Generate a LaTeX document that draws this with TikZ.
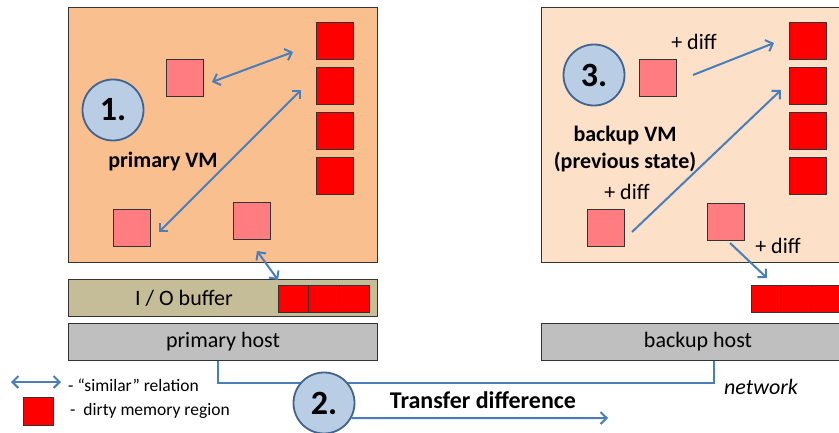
\documentclass[tikz,border=0pt]{standalone}
\usepackage{fontspec}
\setmainfont{Carlito}
\usetikzlibrary{arrows.meta}
\definecolor{vmA}{HTML}{F9BF8F}
\definecolor{vmB}{HTML}{FCE0C8}
\definecolor{pinkc}{HTML}{FF7C80}
\definecolor{bufc}{HTML}{C4BD97}
\definecolor{hostc}{HTML}{BFBFBF}
\definecolor{circf}{HTML}{B9CDE5}
\definecolor{circd}{HTML}{41648F}
\definecolor{arrc}{HTML}{4A7EBB}
\definecolor{edgec}{HTML}{333333}
\tikzset{
  box/.style={draw=edgec, line width=1pt, anchor=north west, inner sep=0pt},
  vmbox/.style={box, minimum height=255pt},
  dirty/.style={box, fill=red, minimum width=37pt, minimum height=37pt},
  simil/.style={box, fill=pinkc, minimum width=37pt, minimum height=37pt},
  cell/.style={box, fill=red, minimum width=30.3pt, minimum height=27pt},
  bar/.style={box, minimum height=37pt},
  num/.style={circle, draw=circd, line width=1.8pt, fill=circf, minimum size=61pt, inner sep=0pt, font=\fontsize{34}{36}\selectfont\bfseries},
  lbl/.style={inner sep=0pt, font=\fontsize{22}{24}\selectfont},
  blbl/.style={inner sep=0pt, font=\fontsize{22}{27}\selectfont\bfseries, align=center},
  rel/.style={draw=arrc, line width=2pt, {Straight Barb[length=6pt,width=12pt]}-{Straight Barb[length=6pt,width=12pt]}},
  dif/.style={draw=arrc, line width=2pt, -{Straight Barb[length=6pt,width=12pt]}},
  net/.style={draw=arrc, line width=2.4pt},
}
\begin{document}
\begin{tikzpicture}[x=1pt,y=-1pt]
\clip (0,0) rectangle (839,433);
\fill[white] (0,0) rectangle (839,433);
% primary VM
\node[vmbox, fill=vmA, minimum width=309pt] (pvm) at (68,7) {};
\node[dirty] (pr1) at (316,22) {};
\node[dirty] (pr2) at (316,67) {};
\node[dirty] (pr3) at (316,112) {};
\node[dirty] (pr4) at (316,157) {};
\node[simil] (pp1) at (166,59) {};
\node[simil] (pp2) at (113,209) {};
\node[simil] (pp3) at (233,202) {};
\node[num] (c1) at (113,110) {1.};
\node[blbl] (pvml) at (163,162) {primary VM};
% I/O buffer and primary host
\node[bar, fill=bufc, minimum width=309pt] (iob) at (68,279) {};
\node[lbl] (iobl) at (184,298) {I / O buffer};
\node[cell] (pc1) at (278,285) {};
\node[cell] (pc2) at (308.3,285) {};
\node[cell] (pc3) at (338.6,285) {};
\node[bar, fill=hostc, minimum width=309pt] (ph) at (68,323) {};
\node[lbl] (phl) at (223,342) {primary host};
% relations primary
\coordinate (a1s) at (212,82);  \coordinate (a1e) at (293,52);
\coordinate (a2s) at (159,232); \coordinate (a2e) at (301,90);
\coordinate (a3s) at (257,251); \coordinate (a3e) at (278,280);
\draw[rel] (a1s) -- (a1e);
\draw[rel] (a2s) -- (a2e);
\draw[rel] (a3s) -- (a3e);
% backup VM
\node[vmbox, fill=vmB, minimum width=320pt] (bvm) at (541,7) {};
\node[dirty] (br1) at (789,22) {};
\node[dirty] (br2) at (789,67) {};
\node[dirty] (br3) at (789,112) {};
\node[dirty] (br4) at (789,157) {};
\node[simil] (bp1) at (639,59) {};
\node[simil] (bp2) at (587,209) {};
\node[simil] (bp3) at (707,203) {};
\node[num] (c3) at (594,75) {3.};
\node[blbl] (bvml) at (625,149) {backup VM\\(previous state)};
\node[lbl] (d1) at (694,42) {+ diff};
\node[lbl] (d2) at (627,192) {+ diff};
\node[lbl] (d3) at (778,246) {+ diff};
\coordinate (b1s) at (693,75);  \coordinate (b1e) at (774,43);
\coordinate (b2s) at (632,232); \coordinate (b2e) at (781,90);
\coordinate (b3s) at (730,243); \coordinate (b3e) at (767,278);
\draw[dif] (b1s) -- (b1e);
\draw[dif] (b2s) -- (b2e);
\draw[dif] (b3s) -- (b3e);
\node[cell] (bc1) at (751,285) {};
\node[cell] (bc2) at (781,285) {};
\node[cell] (bc3) at (811,285) {};
\node[bar, fill=hostc, minimum width=320pt] (bh) at (541,323) {};
\node[lbl] (bhl) at (698,342) {backup host};
% network
\coordinate (n1) at (218,383);
\coordinate (n2) at (714,383);
\draw[net] (n1 |- ph.south) -- (n1) -- (n2) -- (n2 |- bh.south);
\node[lbl, font=\fontsize{22}{24}\selectfont\itshape] (netl) at (761,387) {network};
\node[num] (c2) at (324,403) {2.};
\node[blbl, font=\fontsize{24}{26}\selectfont\bfseries] (tdl) at (483,400) {Transfer difference};
\coordinate (t1) at (608,418);
\draw[dif] (c2.-29) -- (t1);
% legend
\coordinate (la1) at (11,382); \coordinate (la2) at (61,382);
\draw[rel] (la1) -- (la2);
\node[lbl, anchor=west, font=\fontsize{17.5}{19}\selectfont] (lt1) at (68,385) {- “similar” relation};
\node[box, fill=red, minimum width=30pt, minimum height=28pt] (lsq) at (23,397) {};
\node[lbl, anchor=west, font=\fontsize{17.5}{19}\selectfont] (lt2) at (70,411) {-\ \ dirty memory region};
\end{tikzpicture}
\end{document}
